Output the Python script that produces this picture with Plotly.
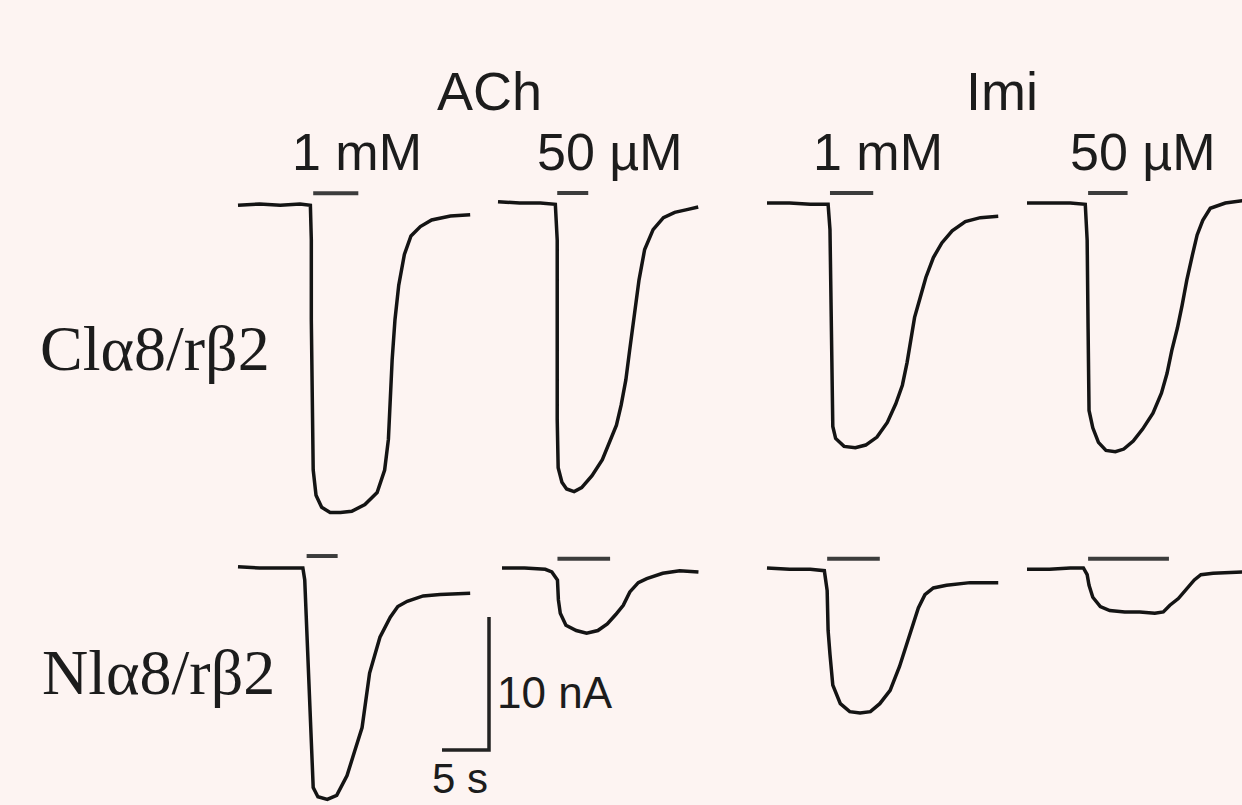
import plotly.graph_objects as go

# ---------------- data (time in s, current in nA, relative to each trace's start / baseline) ----------------
# Row 1: Clα8/rβ2
T_CL_ACH_1MM = [0, 2.3, 4.5, 6.6, 7.7, 7.8, 7.8, 7.9, 8.0, 8.3, 8.9, 9.8, 10.9, 12.1, 13.5, 14.8, 15.6, 16.0,
                16.2, 16.4, 16.7, 17.1, 17.7, 18.4, 19.4, 20.6, 22.6, 24.7]
I_CL_ACH_1MM = [-0.1, 0, -0.1, 0, -0.1, -2.7, -8.7, -14.7, -20.0, -21.9, -22.8, -23.2, -23.2, -23.1, -22.6, -21.7,
                -20.0, -17.7, -14.7, -11.7, -8.7, -6.1, -3.8, -2.4, -1.7, -1.2, -0.9, -0.8]

T_CL_ACH_50UM = [0, 2.3, 4.5, 6.1, 6.3, 6.3, 6.3, 6.4, 6.8, 7.3, 8.1, 8.9, 10.0, 11.1, 11.9, 12.6, 13.1, 13.6,
                 14.0, 14.5, 15.0, 15.6, 16.5, 17.6, 18.8, 20.1, 21.3]
I_CL_ACH_50UM = [0.1, 0, 0, -0.1, -2.8, -9.5, -16.3, -19.9, -21.0, -21.5, -21.7, -21.4, -20.5, -19.3, -18.0,
                 -16.7, -15.2, -13.3, -11.1, -8.4, -5.8, -3.5, -2.0, -1.1, -0.7, -0.5, -0.3]

T_CL_IMI_1MM = [0, 2.4, 4.6, 6.5, 6.7, 6.8, 6.9, 7.0, 7.3, 8.2, 9.4, 10.5, 11.7, 12.8, 13.7, 14.4, 14.9, 15.3,
                15.7, 16.3, 16.9, 17.7, 18.6, 19.7, 21.1, 22.7, 24.6]
I_CL_IMI_1MM = [0, 0, -0.1, -0.1, -2.0, -8.8, -14.7, -16.8, -17.7, -18.3, -18.4, -18.2, -17.6, -16.5, -15.1,
                -13.7, -12.0, -10.3, -8.6, -7.1, -5.6, -4.1, -3.0, -2.1, -1.4, -1.1, -1.0]

T_CL_IMI_50UM = [0, 2.4, 4.6, 6.2, 6.4, 6.5, 6.6, 7.0, 7.6, 8.4, 9.4, 10.3, 11.3, 12.3, 13.4, 14.3, 14.9, 15.4,
                 16.0, 16.5, 17.0, 17.6, 18.1, 18.7, 19.5, 21.1, 23.2]
I_CL_IMI_50UM = [0, 0, 0, -0.1, -2.8, -9.5, -15.6, -16.9, -18.0, -18.6, -18.7, -18.5, -17.9, -17.0, -15.8,
                 -14.3, -12.8, -11.1, -9.4, -7.7, -5.8, -3.9, -2.4, -1.3, -0.4, 0.0, 0.2]

# Row 2: Nlα8/rβ2
T_NL_ACH_1MM = [0, 2.3, 5.0, 6.9, 7.1, 7.3, 7.6, 7.8, 8.0, 8.5, 9.5, 10.5, 11.6, 12.4, 13.2, 14.0, 14.6, 15.1,
                16.2, 17.0, 18.0, 19.7, 21.5, 24.7]
I_NL_ACH_1MM = [0.1, 0, 0, 0, -0.9, -4.7, -9.9, -14.4, -16.5, -17.2, -17.4, -17.1, -15.6, -13.8, -12.0, -7.9,
                -6.3, -5.2, -3.7, -2.9, -2.5, -2.1, -2.0, -1.9]

T_NL_ACH_50UM = [0, 2.4, 4.6, 5.3, 5.9, 6.0, 6.2, 6.8, 7.9, 9.0, 10.2, 11.2, 12.1, 12.9, 13.6, 14.5, 15.4,
                 17.1, 18.9, 20.9]
I_NL_ACH_50UM = [0, 0, -0.1, -0.3, -0.9, -2.4, -3.4, -4.3, -4.7, -4.9, -4.7, -4.2, -3.5, -2.8, -1.8, -1.1,
                 -0.8, -0.4, -0.2, -0.3]

T_NL_IMI_1MM = [0, 2.4, 4.6, 6.1, 6.4, 6.5, 6.7, 7.0, 7.8, 8.8, 9.9, 11.0, 12.0, 13.1, 14.1, 15.2, 16.1, 16.8,
                17.7, 19.1, 21.6, 24.6]
I_NL_IMI_1MM = [0, -0.1, -0.1, -0.2, -1.7, -4.7, -6.5, -8.8, -10.2, -10.8, -10.9, -10.8, -10.2, -9.2, -7.4,
                -4.9, -3.0, -2.0, -1.5, -1.3, -1.1, -1.1]

T_NL_IMI_50UM = [0, 2.4, 4.6, 6.0, 6.4, 6.6, 7.0, 7.8, 8.8, 10.4, 12.0, 13.6, 14.5, 15.2, 16.1, 16.9, 17.8,
                 18.5, 19.8, 23.2]
I_NL_IMI_50UM = [-0.1, -0.1, 0, 0, -0.5, -1.3, -2.2, -2.9, -3.2, -3.3, -3.3, -3.4, -3.3, -2.8, -2.3, -1.6,
                 -0.9, -0.5, -0.4, -0.3]

# agonist application bars: (t_on, t_off, level in nA above baseline)
BAR_CL_ACH_1MM = (8.0, 12.8, 0.8)
BAR_CL_ACH_50UM = (6.3, 9.6, 0.75)
BAR_CL_IMI_1MM = (6.7, 11.3, 0.75)
BAR_CL_IMI_50UM = (6.5, 10.7, 0.75)
BAR_NL_ACH_1MM = (7.3, 10.6, 0.9)
BAR_NL_ACH_50UM = (5.9, 11.5, 0.7)
BAR_NL_IMI_1MM = (6.4, 12.0, 0.7)
BAR_NL_IMI_50UM = (6.5, 15.1, 0.7)

# scale bar
SCALE_T = 5    # s
SCALE_I = 10   # nA

AGONISTS = ["ACh", "Imi"]
CONCS = ["1 mM", "50 µM", "1 mM", "50 µM"]
RECEPTORS = ["Clα8/rβ2", "Nlα8/rβ2"]

# ---------------- layout helpers (pixel geometry) ----------------
W, H = 1242, 805
SX = 9.4    # px per second
SY = 13.3   # px per nA

TRACE_COLOR = "#141414"
BAR_COLOR = "#3c3c3c"
BG = "#fdf4f2"

fig = go.Figure()
layout_axes = {}


def add_axes(k, left, right, top, bottom, ox, oy):
    xd = [max(0, left) / W, min(W, right) / W]
    yd = [1 - min(H, bottom) / H, 1 - max(0, top) / H]
    xr = [(max(0, left) - ox) / SX, (min(W, right) - ox) / SX]
    yr = [(oy - min(H, bottom)) / SY, (oy - max(0, top)) / SY]
    sfx = "" if k == 1 else str(k)
    layout_axes["xaxis" + sfx] = dict(domain=xd, range=xr, anchor="y" + sfx, visible=False,
                                      showgrid=False, zeroline=False, fixedrange=True)
    layout_axes["yaxis" + sfx] = dict(domain=yd, range=yr, anchor="x" + sfx, visible=False,
                                      showgrid=False, zeroline=False, fixedrange=True)
    return "x" + sfx, "y" + sfx


panels = [
    (T_CL_ACH_1MM, I_CL_ACH_1MM, BAR_CL_ACH_1MM, 238, 204),
    (T_CL_ACH_50UM, I_CL_ACH_50UM, BAR_CL_ACH_50UM, 498, 203),
    (T_CL_IMI_1MM, I_CL_IMI_1MM, BAR_CL_IMI_1MM, 767, 203),
    (T_CL_IMI_50UM, I_CL_IMI_50UM, BAR_CL_IMI_50UM, 1027, 203),
    (T_NL_ACH_1MM, I_NL_ACH_1MM, BAR_NL_ACH_1MM, 238, 568),
    (T_NL_ACH_50UM, I_NL_ACH_50UM, BAR_NL_ACH_50UM, 502, 568),
    (T_NL_IMI_1MM, I_NL_IMI_1MM, BAR_NL_IMI_1MM, 767, 568),
    (T_NL_IMI_50UM, I_NL_IMI_50UM, BAR_NL_IMI_50UM, 1027, 568),
]

for k, (t, cur, bar, ox, oy) in enumerate(panels, start=1):
    xa, ya = add_axes(k, ox - 6, ox + 245, oy - 40, oy + 330, ox, oy)
    fig.add_trace(go.Scatter(x=t, y=cur, mode="lines", xaxis=xa, yaxis=ya,
                             line=dict(color=TRACE_COLOR, width=3.5), hoverinfo="skip", showlegend=False))
    fig.add_trace(go.Scatter(x=[bar[0], bar[1]], y=[bar[2], bar[2]], mode="lines", xaxis=xa, yaxis=ya,
                             line=dict(color=BAR_COLOR, width=4), hoverinfo="skip", showlegend=False))

# scale bar panel (corner at px 489, 750)
xa, ya = add_axes(9, 420, 520, 590, 770, 489, 750)
fig.add_trace(go.Scatter(x=[-SCALE_T, 0, 0], y=[0, 0, SCALE_I], mode="lines", xaxis=xa, yaxis=ya,
                         line=dict(color="#222222", width=3.5), hoverinfo="skip", showlegend=False))


def px(x):
    return x / W


def py(y):
    return 1 - y / H


SANS = "Liberation Sans, Arial, sans-serif"
SERIF = "Liberation Serif, Times New Roman, serif"
TXT = "#1c1c1c"

annotations = []


def label(text, x, y, size, family=SANS, xanchor="center", yanchor="middle"):
    annotations.append(dict(text=text, x=px(x), y=py(y), xref="paper", yref="paper", showarrow=False,
                            xanchor=xanchor, yanchor=yanchor, font=dict(family=family, size=size, color=TXT)))


label(AGONISTS[0], 490, 91, 54)
label(AGONISTS[1], 1002, 91, 54)
label(CONCS[0], 357, 152, 52)
label(CONCS[1], 610, 152, 52)
label(CONCS[2], 878, 152, 52)
label(CONCS[3], 1143, 152, 52)
label(RECEPTORS[0], 38, 348, 64, SERIF, "left")
label(RECEPTORS[1], 40, 672, 64, SERIF, "left")
label(f"{SCALE_I} nA", 495, 692, 44, SANS, "left")
label(f"{SCALE_T} s", 460, 804, 42, SANS, "center", "bottom")

fig.update_layout(width=W, height=H, margin=dict(l=0, r=0, t=0, b=0),
                  paper_bgcolor=BG, plot_bgcolor="rgba(0,0,0,0)", showlegend=False,
                  annotations=annotations, **layout_axes)

fig.write_html("out.html", config={"displayModeBar": False})
